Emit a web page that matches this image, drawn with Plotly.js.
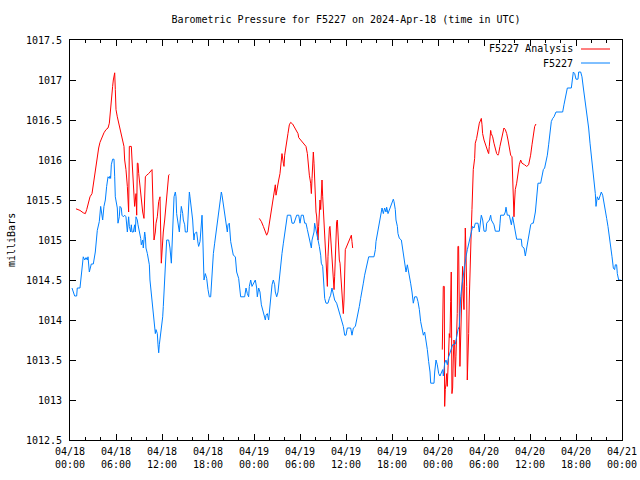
<!DOCTYPE html>
<html>
<head>
<meta charset="utf-8">
<script src="https://cdn.plot.ly/plotly-3.0.1.min.js"></script>
<style>
  html, body { margin: 0; padding: 0; background: #ffffff; }
  #chart { width: 640px; height: 480px; }
</style>
</head>
<body>
<div id="chart"></div>
<script>
// ---- Data (hours after 2024-04-18 00:00 UTC, pressure in milliBars) ----
const stationHours = [0.26,0.61,0.87,0.95,1.30,1.57,1.73,1.92,2.09,2.26,2.35,2.52,2.78,3.04,3.30,3.56,3.82,4.00,4.17,4.26,4.43,4.61,4.78,4.96,5.13,5.22,5.30,5.39,5.56,5.74,5.83,5.91,6.17,6.26,6.43,6.52,6.69,6.78,6.96,7.13,7.30,7.39,7.48,7.65,7.74,7.91,8.00,8.09,8.26,8.43,8.52,8.61,8.78,8.87,9.04,9.22,9.30,9.48,9.56,9.74,9.83,9.91,10.09,10.17,10.35,10.43,10.61,10.78,10.87,11.04,11.13,11.22,11.39,11.48,11.57,11.65,11.83,11.91,12.09,12.17,12.26,12.35,12.52,12.61,12.87,13.04,13.22,13.30,13.39,13.57,13.74,13.83,13.91,14.09,14.26,14.44,14.52,14.70,14.78,14.96,15.04,15.30,15.39,15.57,15.65,15.74,15.91,16.00,16.09,16.17,16.26,16.52,16.70,16.78,16.96,17.04,17.22,17.30,17.39,17.48,17.65,17.83,18.00,18.17,18.35,18.43,18.61,18.70,18.87,19.04,19.22,19.39,19.57,19.74,19.83,20.00,20.17,20.35,20.52,20.61,20.78,20.96,21.13,21.30,21.57,21.74,22.00,22.17,22.26,22.78,22.96,23.13,23.30,23.39,23.57,23.74,23.91,24.09,24.17,24.35,24.43,24.61,24.78,24.96,25.13,25.30,25.48,25.57,25.74,25.91,26.00,26.17,26.35,26.52,26.70,26.78,26.96,27.13,27.30,27.48,27.65,27.83,28.00,28.17,28.35,28.78,28.96,29.22,29.39,29.57,29.83,29.91,30.00,30.17,30.43,30.61,30.78,30.96,31.13,31.30,31.48,31.57,31.83,31.91,32.09,32.17,32.35,32.52,32.70,32.78,32.96,33.04,33.13,33.22,33.39,33.65,33.83,34.00,34.17,34.35,34.52,34.78,34.96,35.13,35.30,35.48,35.65,35.83,36.00,36.17,36.35,36.61,36.78,36.96,37.22,37.39,37.57,37.74,37.91,38.09,38.26,38.43,38.61,38.78,38.96,39.65,39.83,39.91,40.09,40.26,40.35,40.52,40.70,40.87,41.04,41.22,41.30,41.48,41.65,41.83,42.00,42.17,42.26,42.43,42.52,42.70,42.78,42.96,43.22,43.39,43.57,43.74,43.83,44.00,44.09,44.26,44.43,44.61,44.78,44.96,45.22,45.39,45.57,45.74,45.91,46.09,46.26,46.43,46.61,46.78,46.96,47.05,47.48,47.57,47.74,47.91,48.09,48.26,48.43,48.61,48.70,48.87,49.04,49.22,49.39,49.57,49.74,49.91,50.26,50.43,50.61,50.78,50.87,50.96,51.13,51.30,51.48,51.65,51.83,52.00,52.17,52.35,52.52,52.70,52.87,53.22,53.39,53.57,53.65,53.83,54.00,54.26,54.35,54.70,54.87,54.96,55.13,55.30,55.48,56.00,56.09,56.17,56.61,56.78,56.87,57.04,57.30,57.39,57.57,57.74,57.91,58.09,58.26,58.87,58.96,59.22,59.39,59.57,59.74,59.91,60.09,60.26,60.43,60.70,60.87,61.04,61.39,61.57,61.74,61.91,62.09,62.26,62.43,62.61,62.78,62.96,63.13,63.39,64.26,64.43,64.61,64.78,64.87,65.39,65.57,65.65,65.83,66.00,66.26,66.35,66.61,66.78,66.96,67.13,67.30,67.48,67.65,67.83,68.00,68.17,68.35,68.52,68.61,68.78,68.96,69.13,69.30,69.48,69.65,69.83,70.00,70.17,70.35,70.52,70.70,70.87,71.04,71.13,71.30,71.39,71.57,71.83];
const stationValues = [1014.40,1014.30,1014.30,1014.40,1014.40,1014.65,1014.79,1014.75,1014.78,1014.75,1014.79,1014.60,1014.70,1014.70,1014.85,1015.12,1015.23,1015.42,1015.29,1015.25,1015.42,1015.50,1015.67,1015.79,1015.77,1015.80,1015.77,1015.94,1016.01,1016.01,1015.79,1015.54,1015.40,1015.21,1015.29,1015.42,1015.40,1015.31,1015.29,1015.31,1015.29,1015.19,1015.10,1015.29,1015.17,1015.10,1015.19,1015.10,1015.10,1015.19,1015.10,1015.29,1015.25,1015.19,1015.12,1015.02,1014.94,1015.00,1014.90,1015.10,1015.04,1014.90,1014.83,1014.79,1014.69,1014.50,1014.33,1014.17,1014.00,1013.92,1013.83,1013.88,1013.83,1013.69,1013.59,1013.69,1013.83,1013.86,1014.04,1014.17,1014.31,1014.54,1014.83,1015.00,1015.00,1014.90,1014.71,1014.92,1015.29,1015.54,1015.60,1015.54,1015.33,1015.19,1015.10,1015.33,1015.42,1015.33,1015.25,1015.19,1015.10,1015.10,1015.25,1015.60,1015.54,1015.48,1015.35,1015.25,1015.10,1015.00,1015.08,1015.10,1014.96,1014.92,1014.98,1015.10,1015.31,1015.10,1014.71,1014.50,1014.58,1014.52,1014.38,1014.29,1014.29,1014.42,1014.71,1014.83,1014.96,1015.08,1015.25,1015.38,1015.52,1015.60,1015.56,1015.46,1015.35,1015.25,1015.10,1015.19,1015.21,1014.98,1014.88,1014.81,1014.79,1014.60,1014.52,1014.38,1014.29,1014.29,1014.40,1014.33,1014.29,1014.42,1014.50,1014.42,1014.46,1014.48,1014.50,1014.40,1014.29,1014.40,1014.35,1014.19,1014.13,1014.06,1014.00,1014.06,1014.08,1014.00,1014.10,1014.29,1014.44,1014.50,1014.44,1014.35,1014.29,1014.35,1014.54,1014.71,1014.83,1014.96,1015.08,1015.19,1015.31,1015.31,1015.21,1015.21,1015.27,1015.31,1015.31,1015.27,1015.21,1015.31,1015.31,1015.21,1015.21,1015.13,1015.04,1014.96,1014.90,1015.00,1015.10,1015.21,1015.13,1015.10,1015.00,1014.92,1014.81,1014.71,1014.67,1014.50,1014.42,1014.27,1014.21,1014.21,1014.27,1014.31,1014.40,1014.31,1014.25,1014.21,1014.15,1014.08,1014.04,1013.98,1013.92,1013.81,1013.81,1013.90,1013.90,1013.90,1013.81,1013.90,1013.92,1014.00,1014.06,1014.17,1014.27,1014.35,1014.46,1014.56,1014.65,1014.71,1014.79,1014.79,1014.88,1014.98,1015.08,1015.17,1015.25,1015.35,1015.40,1015.33,1015.40,1015.35,1015.41,1015.33,1015.38,1015.44,1015.46,1015.51,1015.48,1015.38,1015.25,1015.17,1015.08,1015.02,1015.00,1014.88,1014.75,1014.65,1014.60,1014.69,1014.65,1014.54,1014.46,1014.35,1014.21,1014.29,1014.29,1014.23,1014.13,1013.98,1013.88,1013.81,1013.85,1013.75,1013.63,1013.48,1013.35,1013.21,1013.21,1013.35,1013.50,1013.44,1013.33,1013.30,1013.33,1013.38,1013.30,1013.46,1013.50,1013.44,1013.54,1013.60,1013.65,1013.69,1013.70,1013.79,1013.88,1013.92,1014.15,1014.29,1014.44,1014.58,1014.69,1014.79,1014.88,1014.96,1015.04,1015.10,1015.17,1015.15,1015.21,1015.21,1015.10,1015.25,1015.31,1015.25,1015.11,1015.11,1015.21,1015.25,1015.31,1015.25,1015.21,1015.19,1015.11,1015.11,1015.21,1015.31,1015.31,1015.35,1015.41,1015.31,1015.31,1015.27,1015.19,1015.29,1015.17,1015.10,1015.01,1015.01,1014.92,1014.90,1014.80,1014.90,1015.00,1015.08,1015.19,1015.21,1015.21,1015.35,1015.56,1015.71,1015.71,1015.81,1015.88,1015.90,1015.98,1016.06,1016.19,1016.33,1016.48,1016.52,1016.54,1016.60,1016.60,1016.69,1016.79,1016.85,1016.90,1016.90,1017.04,1017.10,1017.08,1017.01,1017.01,1017.10,1017.10,1017.04,1016.90,1016.77,1016.67,1016.56,1016.40,1016.21,1016.06,1015.90,1015.73,1015.58,1015.42,1015.54,1015.50,1015.56,1015.60,1015.56,1015.48,1015.38,1015.27,1015.17,1015.06,1014.94,1014.79,1014.65,1014.63,1014.69,1014.69,1014.58,1014.50,1014.50];

// null entries split the analysis into its separate runs
const analysisHours = [0.78,1.30,1.73,2.00,2.18,2.35,2.61,2.87,3.04,3.22,3.39,3.56,3.74,3.91,4.08,4.26,4.43,4.70,4.96,5.13,5.22,5.39,5.56,5.65,5.74,5.83,5.91,6.00,6.17,6.35,6.52,6.69,6.87,7.04,7.13,7.30,7.48,7.57,7.65,7.74,8.00,8.09,8.26,8.35,8.43,8.61,8.70,8.78,8.87,8.96,9.13,9.30,9.48,9.65,9.74,9.83,10.00,10.26,10.70,10.78,10.87,10.96,11.13,11.22,11.39,11.57,11.74,11.83,11.91,12.00,12.09,12.17,12.35,12.52,12.70,12.87,12.96,
  null,
  24.69,24.96,25.22,25.48,25.65,25.83,26.00,26.18,26.35,26.52,26.61,26.78,26.87,27.04,27.22,27.39,27.56,27.65,27.83,27.91,28.00,28.09,28.26,28.43,28.61,28.78,29.04,29.22,29.48,29.74,29.83,30.00,30.26,30.52,30.78,30.96,31.04,31.22,31.39,31.48,31.57,31.65,31.74,31.83,31.91,32.00,32.09,32.17,32.26,32.35,32.43,32.52,32.61,32.70,32.78,32.87,32.96,33.04,33.13,33.22,33.30,33.39,33.48,33.57,33.65,33.74,33.83,33.91,34.00,34.09,34.17,34.26,34.35,34.44,34.52,34.61,34.70,34.78,34.87,34.96,35.05,35.13,35.22,35.31,35.39,35.48,35.57,35.65,35.74,35.83,35.91,36.00,36.17,36.35,36.52,36.70,36.78,36.87,
  null,
  48.56,48.61,48.69,48.82,48.87,48.95,49.04,49.13,49.21,49.30,49.39,49.47,49.56,49.65,49.73,49.82,49.91,49.99,50.08,50.17,50.25,50.34,50.43,50.51,50.60,50.69,50.77,50.86,50.95,51.04,51.13,51.21,51.30,51.39,51.48,51.56,51.65,51.74,51.82,51.91,52.00,52.08,52.17,52.26,52.34,52.43,52.52,52.60,52.78,52.86,53.04,53.22,53.39,53.57,53.65,53.74,53.82,54.00,54.17,54.35,54.52,54.61,54.69,54.78,54.87,54.95,55.13,55.30,55.47,55.65,55.82,55.91,56.08,56.25,56.43,56.60,56.78,56.96,57.13,57.30,57.48,57.65,57.74,57.82,57.91,58.00,58.08,58.26,58.43,58.60,58.78,58.95,59.30,59.56,59.82,60.00,60.08,60.26,60.43,60.61,60.78];
const analysisValues = [1015.39,1015.37,1015.34,1015.33,1015.38,1015.46,1015.54,1015.58,1015.69,1015.79,1015.96,1016.04,1016.15,1016.22,1016.26,1016.29,1016.34,1016.38,1016.40,1016.46,1016.58,1016.79,1016.92,1017.00,1017.08,1017.09,1016.88,1016.63,1016.54,1016.46,1016.38,1016.29,1016.25,1016.17,1016.00,1015.88,1015.67,1015.50,1015.35,1016.17,1016.17,1016.00,1015.71,1015.58,1015.42,1015.58,1015.31,1015.96,1015.96,1015.83,1015.67,1015.48,1015.35,1015.27,1015.58,1015.79,1015.81,1015.83,1015.88,1015.67,1015.23,1015.00,1015.10,1015.21,1015.29,1015.48,1015.54,1015.25,1014.71,1014.85,1015.08,1015.10,1015.25,1015.46,1015.71,1015.81,1015.82,
  null,
  1015.27,1015.23,1015.17,1015.10,1015.06,1015.10,1015.21,1015.31,1015.42,1015.52,1015.63,1015.69,1015.56,1015.67,1015.75,1015.83,1015.98,1016.08,1015.96,1015.92,1016.06,1016.13,1016.21,1016.33,1016.44,1016.47,1016.45,1016.42,1016.38,1016.33,1016.28,1016.26,1016.24,1016.21,1016.17,1016.08,1015.96,1015.81,1015.71,1015.58,1015.77,1016.02,1016.10,1015.96,1015.71,1015.50,1015.35,1015.30,1015.15,1015.00,1015.17,1015.38,1015.50,1015.38,1015.75,1015.75,1015.54,1015.38,1015.17,1014.96,1014.79,1014.71,1014.58,1014.42,1014.79,1015.02,1015.15,1015.17,1015.04,1014.92,1014.79,1014.63,1014.50,1014.38,1014.54,1014.83,1015.06,1015.23,1015.25,1015.04,1014.92,1014.75,1014.71,1014.54,1014.42,1014.29,1014.19,1014.08,1014.25,1014.63,1014.88,1014.90,1014.94,1014.98,1015.02,1015.06,1014.98,1014.90,
  null,
  1013.63,1014.02,1014.42,1014.42,1012.92,1013.13,1013.20,1013.33,1013.17,1013.58,1013.60,1013.83,1013.78,1014.23,1014.60,1013.08,1013.15,1013.50,1013.75,1013.70,1013.29,1013.54,1013.83,1014.08,1014.92,1014.92,1014.20,1013.42,1013.75,1014.25,1014.50,1014.67,1014.30,1014.13,1014.60,1015.15,1014.85,1014.42,1013.25,1013.44,1013.83,1014.25,1014.67,1014.88,1015.13,1015.38,1015.67,1015.88,1016.02,1016.21,1016.27,1016.38,1016.46,1016.50,1016.52,1016.44,1016.33,1016.25,1016.21,1016.15,1016.10,1016.08,1016.17,1016.29,1016.37,1016.33,1016.29,1016.21,1016.15,1016.08,1016.06,1016.08,1016.17,1016.25,1016.33,1016.40,1016.38,1016.33,1016.25,1016.15,1016.06,1016.04,1015.63,1015.50,1015.29,1015.50,1015.63,1015.71,1015.83,1015.94,1016.00,1015.96,1015.94,1015.92,1015.94,1016.00,1016.06,1016.19,1016.33,1016.42,1016.45];

const seriesNames = ["F5227 Analysis", "F5227"];
const seriesColors = ["#ff0000", "#0080ff"];
const chartTitle = "Barometric Pressure for F5227 on 2024-Apr-18 (time in UTC)";
const yAxisLabel = "milliBars";
const startDate = "2024-04-18 00:00";
const endDate = "2024-04-21 00:00";

// ---- helpers ----
const baseMs = Date.UTC(2024, 3, 18, 0, 0, 0);
function pad(n) { return (n < 10 ? "0" : "") + n; }
function hourToDate(h) {
  if (h === null) return null;
  const d = new Date(baseMs + Math.round(h * 3600) * 1000);
  return d.getUTCFullYear() + "-" + pad(d.getUTCMonth() + 1) + "-" + pad(d.getUTCDate()) +
    " " + pad(d.getUTCHours()) + ":" + pad(d.getUTCMinutes()) + ":" + pad(d.getUTCSeconds());
}

const mono = "DejaVu Sans Mono, Liberation Mono, monospace";

const traces = [
  {
    x: analysisHours.map(hourToDate), y: analysisValues,
    type: "scatter", mode: "lines", name: seriesNames[0],
    line: { color: seriesColors[0], width: 1 }, connectgaps: false
  },
  {
    x: stationHours.map(hourToDate), y: stationValues,
    type: "scatter", mode: "lines", name: seriesNames[1],
    line: { color: seriesColors[1], width: 1 }
  }
];

// plot area in pixels: left 70, right 622, top 40, bottom 440
const W = 640, H = 480, L = 70, R = 18, T = 40, B = 40;
const pw = W - L - R, ph = H - T - B;
function px2paperX(px) { return (px - L) / pw; }
function px2paperY(py) { return (H - B - py) / ph; }

const legendRows = [49, 63];
const annotations = [];
const shapes = [];
seriesNames.forEach((name, i) => {
  annotations.push({
    xref: "paper", yref: "paper", x: px2paperX(575), y: px2paperY(legendRows[i]),
    xanchor: "right", yanchor: "middle", showarrow: false, text: name,
    font: { family: mono, size: 10, color: "#000" }
  });
  shapes.push({
    type: "line", xref: "paper", yref: "paper",
    x0: px2paperX(581), x1: px2paperX(610), y0: px2paperY(legendRows[i]), y1: px2paperY(legendRows[i]),
    line: { color: seriesColors[i], width: 1 }
  });
});
annotations.push({
  xref: "paper", yref: "paper", x: px2paperX(11), y: 0.5, textangle: -90,
  xanchor: "center", yanchor: "middle", showarrow: false, text: yAxisLabel,
  font: { family: mono, size: 10, color: "#000" }
});

const layout = {
  width: W, height: H,
  margin: { l: L, r: R, t: T, b: B, pad: 0 },
  paper_bgcolor: "#ffffff", plot_bgcolor: "#ffffff",
  showlegend: false,
  font: { family: mono, size: 10, color: "#000" },
  title: {
    text: chartTitle, font: { family: mono, size: 10, color: "#000" },
    x: 0.5, xref: "paper", y: 1 - 19 / H, yref: "container", yanchor: "middle"
  },
  xaxis: {
    type: "date", range: [startDate, endDate], autorange: false,
    tick0: startDate, dtick: 6 * 3600000, tickformat: "%m/%d<br>%H:%M",
    ticks: "inside", ticklen: 6, tickcolor: "#000", tickwidth: 1,
    minor: { dtick: 2 * 3600000, ticks: "inside", ticklen: 3, tickcolor: "#000" },
    showline: true, linecolor: "#000", linewidth: 1, mirror: "ticks",
    showgrid: false, zeroline: false, ticklabelstandoff: 2,
    tickfont: { family: mono, size: 10, color: "#000" }
  },
  yaxis: {
    range: [1012.5, 1017.5], autorange: false, dtick: 0.5, tick0: 1012.5,
    tickformat: ".1~f",
    ticks: "inside", ticklen: 6, tickcolor: "#000", tickwidth: 1,
    showline: true, linecolor: "#000", linewidth: 1, mirror: "ticks",
    showgrid: false, zeroline: false, ticklabelstandoff: 5,
    tickfont: { family: mono, size: 10, color: "#000" }
  },
  annotations: annotations,
  shapes: shapes
};

Plotly.newPlot("chart", traces, layout, { staticPlot: true, displayModeBar: false });
</script>
</body>
</html>
